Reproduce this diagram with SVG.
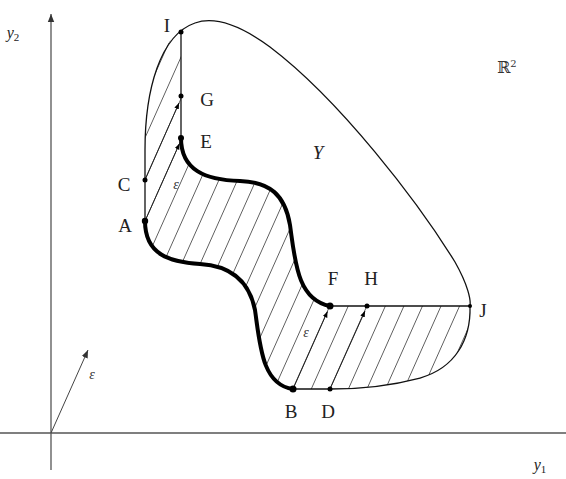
<svg xmlns="http://www.w3.org/2000/svg" width="566" height="479" viewBox="0 0 566 479">
<style>
.lbl{font-family:"Liberation Serif","Times New Roman",serif;font-size:19px;fill:#222;text-anchor:middle}
.it{font-style:italic}
.eps{font-family:"Liberation Serif","Times New Roman",serif;font-size:14px;font-style:italic;fill:#333;text-anchor:middle}
.axis{stroke:#555;stroke-width:1.3;fill:none}
.thin{stroke:#111;stroke-width:1.3;fill:none}
.thick{stroke:#000;stroke-width:4;fill:none;stroke-linecap:round}
.vec{stroke:#222;stroke-width:1;fill:none}
.dot{fill:#000}
</style>
<defs>
<pattern id="hatch" patternUnits="userSpaceOnUse" width="18.55" height="40" patternTransform="translate(41.225,433) skewX(-24.03)">
<line x1="9.275" y1="-2" x2="9.275" y2="42" stroke="#555" stroke-width="0.9"/>
</pattern>
<marker id="ah" viewBox="0 0 10 10" refX="10" refY="5" markerWidth="6" markerHeight="6" markerUnits="userSpaceOnUse" orient="auto">
<path d="M0,1 L10,5 L0,9 Z" fill="#000"/>
</marker>
<marker id="ahg" viewBox="0 0 10 10" refX="10" refY="5" markerWidth="8" markerHeight="8" markerUnits="userSpaceOnUse" orient="auto">
<path d="M0,1 L10,5 L0,9 Z" fill="#333"/>
</marker>
</defs>
<rect width="566" height="479" fill="#fff"/>

<path id="hatched" fill="url(#hatch)" d="M181,31 C160,42 146,90 145,150 L145,221 C145,255 170,262 200,264 C235,266 250,285 255,310 C260,345 262,385 293,389 L330,389 C360,389 390,386 420,378 C455,368 471,340 470,306 L330,306 C297,300 295,260 290,225 C285,195 270,182 240,181 C205,180 181,170 181,138 Z"/>

<g id="axes">
<line class="axis" x1="51" y1="470" x2="51" y2="14" marker-end="url(#ahg)"/>
<line class="axis" x1="0" y1="433" x2="566" y2="433"/>
<line x1="51" y1="433" x2="88" y2="350" stroke="#444" stroke-width="1" marker-end="url(#ahg)"/>
<text class="eps" x="92" y="379">ε</text>
<text class="lbl it" x="13" y="38" style="font-size:16px">y<tspan dy="3" style="font-size:11px;font-style:normal">2</tspan></text>
<text class="lbl it" x="540" y="470" style="font-size:16px">y<tspan dy="3" style="font-size:11px;font-style:normal">1</tspan></text>
<text x="497" y="73" style="font-family:'DejaVu Serif',serif;font-size:16px;fill:#333">ℝ<tspan dy="-6" style="font-size:10px">2</tspan></text>
</g>

<g id="connectors">
<path class="thin" d="M145,221 L145,150 C145,90 160,35 195,23 C215,16 240,25 270,47 C340,100 418,202 455,262 C468,285 471,300 470,306"/>
<path class="thin" d="M470,306 C471,340 455,368 420,378 C390,386 360,389 330,389"/>
<line class="thin" x1="181" y1="32" x2="181" y2="140" stroke-width="1.6"/>
<line class="thin" x1="330" y1="306" x2="470" y2="306"/>
<line class="thin" x1="293" y1="389" x2="330" y2="389"/>
<path class="thick" d="M181,138 C181,170 205,180 240,181 C270,182 285,195 290,225 C295,260 297,300 330,306"/>
<path class="thick" d="M145,221 C145,255 170,262 200,264 C235,266 250,285 255,310 C260,345 262,385 293,389"/>
<line class="vec" x1="145" y1="221" x2="179.5" y2="143.5" marker-end="url(#ah)"/>
<line class="vec" x1="145" y1="180" x2="179" y2="103" marker-end="url(#ah)"/>
<line class="vec" x1="293" y1="389" x2="327.5" y2="311.5" marker-end="url(#ah)"/>
<line class="vec" x1="330" y1="389" x2="365" y2="311" marker-end="url(#ah)"/>
<text class="eps" x="176" y="189">ε</text>
<text class="eps" x="306" y="337">ε</text>
<text class="lbl it" x="318" y="159">Y</text>
</g>

<g id="node-I"><circle class="dot" cx="181" cy="32" r="2.5"/><text class="lbl" x="167" y="32">I</text></g>
<g id="node-G"><circle class="dot" cx="181" cy="96" r="2.5"/><text class="lbl" x="207" y="106">G</text></g>
<g id="node-E"><circle class="dot" cx="181" cy="138" r="3"/><text class="lbl" x="206" y="148">E</text></g>
<g id="node-C"><circle class="dot" cx="145" cy="180" r="2.5"/><text class="lbl" x="124" y="191">C</text></g>
<g id="node-A"><circle class="dot" cx="145" cy="221" r="3.2"/><text class="lbl" x="125" y="232">A</text></g>
<g id="node-F"><circle class="dot" cx="330" cy="306" r="3.5"/><text class="lbl" x="333" y="285">F</text></g>
<g id="node-H"><circle class="dot" cx="367" cy="306" r="2.5"/><text class="lbl" x="371" y="285">H</text></g>
<g id="node-J"><circle class="dot" cx="470" cy="306" r="2"/><text class="lbl" x="483" y="317">J</text></g>
<g id="node-B"><circle class="dot" cx="293" cy="389" r="3.5"/><text class="lbl" x="291" y="418">B</text></g>
<g id="node-D"><circle class="dot" cx="330" cy="389" r="2.5"/><text class="lbl" x="328" y="418">D</text></g>
</svg>
